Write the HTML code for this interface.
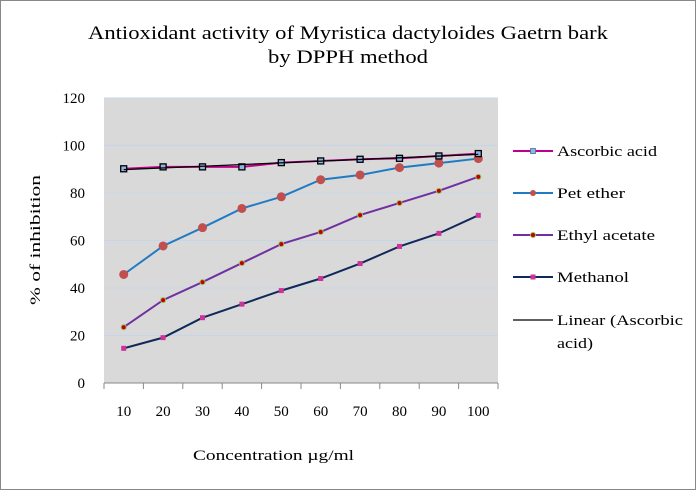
<!DOCTYPE html>
<html><head><meta charset="utf-8"><style>
body{margin:0;background:#fff}
svg text{font-family:"Liberation Serif",serif;fill:#000}
</style></head><body>
<svg id="c" width="696" height="490" xmlns="http://www.w3.org/2000/svg">
<rect x="0.5" y="0.5" width="695" height="489" fill="#fff" stroke="#888"/>
<text x="88" y="39" textLength="520" lengthAdjust="spacingAndGlyphs" font-size="19">Antioxidant activity of Myristica dactyloides Gaetrn bark</text>
<text x="268" y="63" textLength="160" lengthAdjust="spacingAndGlyphs" font-size="19">by DPPH method</text>
<rect x="104" y="98" width="394" height="285" fill="#d9d9d9"/>
<g id="grid"></g><g id="axes"></g><g id="series"></g><g id="legend"></g>
<text x="193" y="460" textLength="161" lengthAdjust="spacingAndGlyphs" font-size="15">Concentration µg/ml</text>
<text transform="translate(40,305) rotate(-90)" textLength="130" lengthAdjust="spacingAndGlyphs" font-size="15">% of inhibition</text>
</svg>
<script>
const categories=[10,20,30,40,50,60,70,80,90,100];
const ascorbic=[90.2,91.0,91.0,91.0,92.8,93.5,94.2,94.6,95.6,96.6];
const petEther=[45.7,57.7,65.4,73.5,78.4,85.6,87.6,90.7,92.6,94.5];
const ethylAcetate=[23.5,34.9,42.5,50.5,58.5,63.6,70.7,75.8,80.9,86.8];
const methanol=[14.6,19.1,27.5,33.2,38.9,44.0,50.3,57.5,63.0,70.6];
const yTicks=[0,20,40,60,80,100,120];
const NS="http://www.w3.org/2000/svg";
const L=104,R=498,T=98,B=383,YMAX=120;
const bw=(R-L)/categories.length;
const xs=i=>L+bw*(i+0.5);
const ys=v=>B-(v/YMAX)*(B-T);
function mk(t,a,p){const e=document.createElementNS(NS,t);for(const k in a)e.setAttribute(k,a[k]);p.appendChild(e);return e;}
const g=document.getElementById('grid'),ax=document.getElementById('axes'),sg=document.getElementById('series'),lg=document.getElementById('legend');
yTicks.forEach(v=>{
 if(v>0){const l=mk('line',{x1:L,x2:R,y1:ys(v),y2:ys(v),stroke:'#c6d6ea','stroke-width':1},g);
 
 }
 const t=mk('text',{x:85,y:ys(v)+5,'text-anchor':'end','font-size':15},ax);t.textContent=v;
 
 
});
const xa=mk('line',{x1:L,x2:R,y1:B,y2:B,stroke:'#888'},ax);


for(let i=0;i<=categories.length;i++){mk('line',{x1:L+bw*i,x2:L+bw*i,y1:B,y2:B+6,stroke:'#888'},ax);}
categories.forEach((c,i)=>{const t=mk('text',{x:xs(i),y:416,'text-anchor':'middle','font-size':15},ax);t.textContent=c;
 
 });
const n=ascorbic.length;let sx=0,sy=0,sxy=0,sxx=0;
ascorbic.forEach((v,i)=>{const x=i+1;sx+=x;sy+=v;sxy+=x*v;sxx+=x*x;});
const slope=(n*sxy-sx*sy)/(n*sxx-sx*sx),icpt=(sy-slope*sx)/n;
function marker(kind,x,y,p){
 if(kind==='sq')return mk('rect',{x:x-3,y:y-3,width:6,height:6,fill:'#8eb4e3',stroke:'#000','stroke-width':1.3},p);
 if(kind==='sqs')return mk('rect',{x:x-2.5,y:y-2.5,width:5,height:5,fill:'#8eb4e3',stroke:'#4f6f9f','stroke-width':0.8},p);
 if(kind==='dot')return mk('circle',{cx:x,cy:y,r:4.5,fill:'#c0504d'},p);
 if(kind==='star')return mk('circle',{cx:x,cy:y,r:2.5,fill:'#c00000',stroke:'#9bbb59','stroke-width':1},p);
 return mk('rect',{x:x-2.5,y:y-2.5,width:5,height:5,fill:'#cc3399'},p);
}
const series=[
 {name:'pet-ether',data:petEther,color:'#1f7bc4',m:'dot'},
 {name:'ethyl-acetate',data:ethylAcetate,color:'#7030a0',m:'star'},
 {name:'methanol',data:methanol,color:'#10285a',m:'sq2'},
 {name:'ascorbic-acid',data:ascorbic,color:'#c0008c',m:'sq'}
];
series.forEach(s=>{
 const grp=mk('g',{},sg);
 
 
 mk('polyline',{points:s.data.map((v,i)=>xs(i)+','+ys(v)).join(' '),fill:'none',stroke:s.color,'stroke-width':2},grp);
 s.data.forEach((v,i)=>{const m=marker(s.m,xs(i),ys(v),grp);
  
  });
});
const tr=mk('line',{x1:xs(0),y1:ys(icpt+slope),x2:xs(n-1),y2:ys(icpt+slope*n),stroke:'#000','stroke-width':1.3},sg);


const leg=[['ascorbic-acid','Ascorbic acid','#c0008c','sqs',151,100],['pet-ether','Pet ether','#1f7bc4','dot',193,68],['ethyl-acetate','Ethyl acetate','#7030a0','star',235,98],['methanol','Methanol','#10285a','sq2',277,72],['linear-ascorbic','Linear (Ascorbic','#000',null,320,126]];
leg.forEach(e=>{
 const grp=mk('g',{},lg);
 
 
 mk('line',{x1:513,x2:553,y1:e[4],y2:e[4],stroke:e[2],'stroke-width':e[3]?2:1.3},grp);
 if(e[3]){if(e[3]==='dot')mk('circle',{cx:533,cy:e[4],r:3,fill:'#c0504d'},grp);else marker(e[3],533,e[4],grp);}
 const t=mk('text',{x:557,y:e[4]+5,'font-size':15,textLength:e[5],lengthAdjust:'spacingAndGlyphs'},grp);t.textContent=e[1];
 if(!e[3]){const t2=mk('text',{x:557,y:e[4]+28,'font-size':15,textLength:36,lengthAdjust:'spacingAndGlyphs'},grp);t2.textContent='acid)';}
});
</script>
</body></html>
